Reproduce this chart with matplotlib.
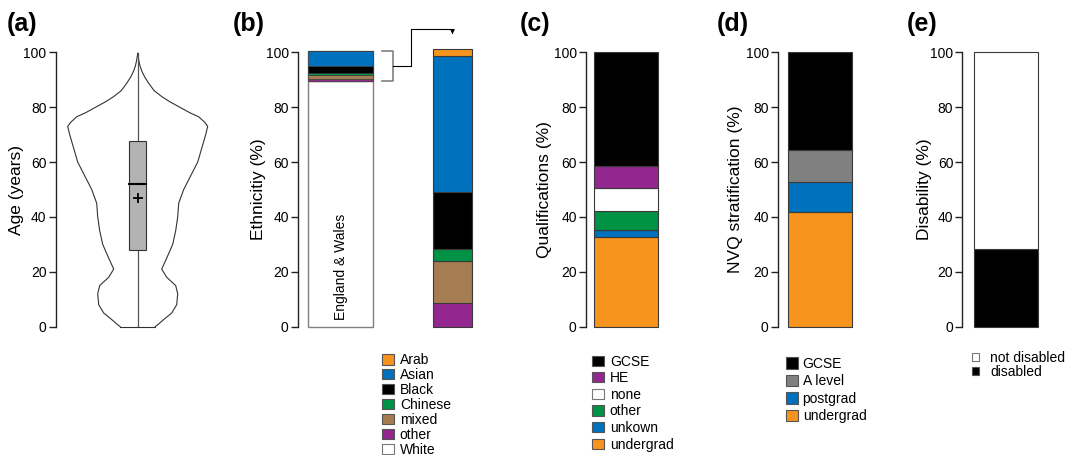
import matplotlib
matplotlib.use('Agg')
import matplotlib.pyplot as plt
from matplotlib.patches import Patch

plt.rcParams['font.family'] = ['Liberation Sans', 'DejaVu Sans']

# ---- data ----
# (a) age violin: half width of the outline (px) at given ages
violin_age = [0, 1, 2, 5, 8, 12, 15, 18, 21, 25, 30, 35, 40, 45, 50, 55, 60, 65, 70, 73,
              74.5, 76.5, 78, 80.2, 82, 83.8, 86, 88.7, 91, 93, 95, 97.2, 99.6]
violin_halfwidth = [17.5, 21, 24, 34, 39, 40, 38, 29, 24, 29, 35, 38, 40, 41, 46, 53, 60, 64, 68, 70,
                    67, 61, 52, 41, 32, 24.3, 16.5, 11, 7, 4.3, 2.3, 1, 0]
age_q1, age_median, age_q3, age_mean = 28, 52, 67.5, 47
age_min, age_max = 0, 99.6

# (b) ethnicity, stacked bottom -> top
eth_labels = ['White', 'other', 'mixed', 'Chinese', 'Black', 'Asian', 'Arab']
eth_england_wales = [89.6, 0.8, 1.3, 0.6, 2.7, 5.4, 0.1]
eth_sample = [0, 8.7, 15.2, 4.3, 20.8, 49.6, 2.5]

# (c) qualifications, bottom -> top
qual_labels = ['undergrad', 'unkown', 'other', 'none', 'HE', 'GCSE']
qual_values = [32.6, 2.6, 7.0, 8.3, 8.2, 41.3]

# (d) NVQ stratification, bottom -> top
nvq_labels = ['undergrad', 'postgrad', 'A level', 'GCSE']
nvq_values = [41.9, 10.7, 11.9, 35.5]

# (e) disability, bottom -> top
dis_labels = ['disabled', 'not disabled']
dis_values = [28.2, 71.8]

ORANGE, BLUE, BLACK = '#F7941D', '#0071BC', '#000000'
GREEN, BROWN, PURPLE = '#009245', '#A67C52', '#93278F'
WHITE, GREY = '#FFFFFF', '#808080'

eth_colors = [WHITE, PURPLE, BROWN, GREEN, BLACK, BLUE, ORANGE]
qual_colors = [ORANGE, BLUE, GREEN, WHITE, PURPLE, BLACK]
nvq_colors = [ORANGE, BLUE, GREY, BLACK]
dis_colors = [BLACK, WHITE]

W, H = 1078, 455
Y0, Y100 = 326.7, 52.3
EDGE = '#3a3a3a'

fig = plt.figure(figsize=(W / 100, H / 100), dpi=100)


def make_axes(left, right):
    ax = fig.add_axes([left / W, 1 - Y0 / H, (right - left) / W, (Y0 - Y100) / H])
    ax.set_xlim(left, right)
    ax.set_ylim(0, 100)
    for s in ['top', 'right', 'bottom']:
        ax.spines[s].set_visible(False)
    ax.spines['left'].set_color('#222222')
    ax.spines['left'].set_linewidth(1.0)
    ax.set_xticks([])
    ax.set_yticks([0, 20, 40, 60, 80, 100])
    ax.tick_params(axis='y', length=5, width=1, color='#222222', labelsize=10, pad=1.5)
    ax.patch.set_alpha(0)
    return ax


def stack(ax, center, width, values, colors, edge=EDGE, lw=0.8):
    bottom = 0
    for v, c in zip(values, colors):
        if v > 0:
            ax.bar(center, v, width, bottom=bottom, color=c, edgecolor=edge,
                   linewidth=lw, clip_on=False)
        bottom += v


def legend(labels, colors, x, y, hl=0.85, hh=0.75, ls=0.06, pad=0.45):
    handles = [Patch(facecolor=c, edgecolor='#555555' if c != WHITE else '#777777', linewidth=0.8)
               for c in colors]
    fig.legend(handles, labels, loc='upper left', bbox_to_anchor=(x / W, 1 - y / H),
               frameon=False, fontsize=10, borderpad=0, borderaxespad=0,
               handlelength=hl, handleheight=hh, handletextpad=pad,
               labelspacing=ls)


# ---- (a) age ----
ax = make_axes(55.5, 220)
cx = 137.7
left_x = [cx - w for w in violin_halfwidth]
right_x = [cx + w for w in violin_halfwidth]
ax.plot(left_x, violin_age, color='#333333', lw=0.8, clip_on=False)
ax.plot(right_x, violin_age, color='#333333', lw=0.8, clip_on=False)
ax.plot([left_x[0], right_x[0]], [0, 0], color='#333333', lw=0.8, clip_on=False)
ax.plot([cx, cx], [age_min, age_max], color='#555555', lw=0.9, zorder=2)
ax.bar(cx, age_q3 - age_q1, 16.6, bottom=age_q1, color='#b3b3b3', edgecolor='#333333',
       linewidth=0.8, zorder=3)
ax.plot([cx - 8.3, cx + 8.3], [age_median, age_median], color='k', lw=1.5, zorder=4)
ax.plot([cx], [age_mean], marker='+', color='k', markersize=7, mew=1.3, zorder=5)

# ---- (b) ethnicity ----
ax = make_axes(297.7, 480)
stack(ax, 340.8, 65, eth_england_wales[:1], eth_colors[:1], edge=GREY, lw=1.0)
ax.bar(340.8, sum(eth_england_wales[1:]), 65, bottom=eth_england_wales[0], color='none',
       edgecolor=GREY, linewidth=1.0, clip_on=False)
bottom = eth_england_wales[0]
for v, c in zip(eth_england_wales[1:], eth_colors[1:]):
    ax.bar(340.8, v, 65, bottom=bottom, color=c, edgecolor=EDGE, linewidth=0.5, clip_on=False)
    bottom += v
stack(ax, 452.5, 38.4, eth_sample, eth_colors)
ax.text(340.8, 2.4, 'England & Wales', rotation=90, ha='center', va='bottom', fontsize=10)
top_b = sum(eth_england_wales)
low_b = eth_england_wales[0]
mid_b = (top_b + low_b) / 2
ax.plot([381.7, 392.7, 392.7, 381.7], [top_b, top_b, low_b, low_b], color=GREY, lw=1.2,
        clip_on=False)
ax.plot([392.7, 410.7, 410.7, 452.5, 452.5], [mid_b, mid_b, 108.6, 108.6, 107.5],
        color='k', lw=0.8, clip_on=False)
ax.annotate('', xy=(452.5, 105.6), xytext=(452.5, 108.0), annotation_clip=False,
            arrowprops=dict(arrowstyle='-|>', color='k', lw=0.8, mutation_scale=6))
legend(eth_labels[::-1], eth_colors[::-1], 381.7, 353.3, ls=0.065)

# ---- (c) qualifications ----
ax = make_axes(585.7, 680)
stack(ax, 625.9, 63.7, qual_values, qual_colors)
legend(qual_labels[::-1], qual_colors[::-1], 591.7, 354.5, ls=0.19)

# ---- (d) NVQ ----
ax = make_axes(777.7, 870)
stack(ax, 820, 63.4, nvq_values, nvq_colors)
legend(nvq_labels[::-1], nvq_colors[::-1], 786, 357, hh=0.9, ls=0.25, pad=0.35)

# ---- (e) disability ----
ax = make_axes(962.3, 1060)
stack(ax, 1006.3, 64, dis_values, dis_colors)
legend(dis_labels[::-1], dis_colors[::-1], 972.3, 350.5, hl=0.5, hh=0.5, ls=0.0, pad=0.8)

# ---- y labels and panel letters ----
ylabels = [('Age (years)', 16.7), ('Ethnicitiy (%)', 259), ('Qualifications (%)', 545),
           ('NVQ stratification (%)', 735.5), ('Disability (%)', 924)]
for text, x in ylabels:
    fig.text(x / W, 1 - 189.5 / H, text, rotation=90, ha='center', va='center', fontsize=12.5)

letters = [('(a)', 6.7), ('(b)', 233), ('(c)', 520), ('(d)', 716.7), ('(e)', 906.7)]
for text, x in letters:
    fig.text(x / W, 1 - 12 / H, text, ha='left', va='top', fontsize=18, fontweight='bold')

fig.savefig('out.png', dpi=100)
